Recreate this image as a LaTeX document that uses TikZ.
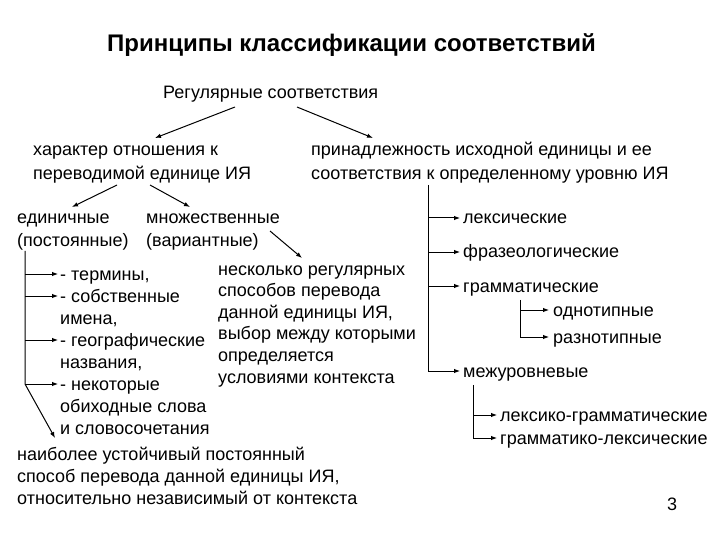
\documentclass[tikz,border=0pt]{standalone}
\usepackage{fontspec}
\setmainfont{Liberation Sans}
\usetikzlibrary{arrows.meta,calc}

\begin{document}
\begin{tikzpicture}[x=1pt, y=-1pt,
  every node/.style={font=\fontsize{18}{22}\selectfont, inner sep=0pt,
                     anchor=base west, align=left},
  titletext/.style={font=\fontsize{24}{28}\selectfont\bfseries, anchor=base},
  toptext/.style={font=\fontsize{18}{24}\selectfont},
  midtext/.style={font=\fontsize{18}{23}\selectfont},
  arr/.style={-{Latex[length=6pt,width=4.5pt]}, line width=1pt},
  branch/.style={line width=1pt},
]
\useasboundingbox (0,0) rectangle (720,540);

% Title and root (multi-line nodes are placed by their last baseline)
\node[titletext] (title) at (351.5,52) {Принципы классификации соответствий};
\node (reg) at (163,99) {Регулярные соответствия};

% Level 1
\node[toptext] (har) at (33,180) {характер отношения к\\переводимой единице ИЯ};
\node[toptext] (prin) at (311,180) {принадлежность исходной единицы и ее\\соответствия к определенному уровню ИЯ};

% Level 2: left branch
\node[midtext] (edin) at (17,247) {единичные\\(постоянные)};
\node[midtext] (mnozh) at (146,247) {множественные\\(вариантные)};

% Multiple: description
\node[font=\fontsize{18}{21.6}\selectfont] (nesk) at (218,383)
  {несколько регулярных\\способов перевода\\данной единицы ИЯ,\\выбор между которыми\\определяется\\условиями контекста};

% Single: list of items
\node (term) at (60,280) {- термины,};
\node (sobst) at (60,324) {- собственные\\имена,};
\node (geo) at (60,368) {- географические\\названия,};
\node (nek) at (60,434) {- некоторые\\обиходные слова\\и словосочетания};
\node (naib) at (17,504) {наиболее устойчивый постоянный\\способ перевода данной единицы ИЯ,\\относительно независимый от контекста};

% Right tree: levels
\node (leks) at (463,224) {лексические};
\node (fraz) at (463,258) {фразеологические};
\node (gram) at (463,292) {грамматические};
\node (odno) at (553,316) {однотипные};
\node (razn) at (553,343) {разнотипные};
\node (mezh) at (463,377) {межуровневые};
\node (lg) at (500,421) {лексико-грамматические};
\node (gl) at (500,444) {грамматико-лексические};

% Page number
\node[anchor=base] (num) at (672,510) {3};

% Arrows: top
\draw[arr] ($(reg.base west)+(72,8)$) -- ($(har.base west)+(122,-42)$);
\draw[arr] ($(reg.base west)+(134,8)$) -- ($(prin.base west)+(62,-42)$);
\draw[arr] ($(har.base west)+(84,5)$) -- ($(edin.base west)+(55,-40)$);
\draw[arr] ($(har.base west)+(117,5)$) -- ($(mnozh.base west)+(44,-40)$);
\draw[arr] ($(mnozh.base west)+(124,-16)$) -- ($(nesk.base west)+(84,-125)$);

% Left tree
\coordinate (ltop) at ([xshift=8pt]edin.south west);
\foreach \item/\n in {term/0,sobst/1,geo/1,nek/2}
  \draw[arr] (ltop |- {$(\item.base west)+(0,-6-22*\n)$}) -- ($(\item.base west)+(-2,-6-22*\n)$);
\draw[arr] (ltop) -- (ltop |- {$(nek.base west)+(0,-50)$}) -- ($(naib.base west)+(38,-66)$);

% Right tree
\coordinate (rtop) at ([xshift=117pt,yshift=-1pt]prin.south west);
\draw[branch] (rtop) -- (rtop |- {$(mezh.base west)+(0,-6)$});
\foreach \item in {leks,fraz,gram,mezh}
  \draw[arr] (rtop |- {$(\item.base west)+(0,-6)$}) -- ([xshift=-3pt,yshift=6pt]\item.base west);

\coordinate (gtop) at ([xshift=57pt,yshift=-4pt]gram.south west);
\draw[branch] (gtop) -- (gtop |- {$(razn.base west)+(0,-6)$});
\foreach \item in {odno,razn}
  \draw[arr] (gtop |- {$(\item.base west)+(0,-6)$}) -- ([xshift=-4pt,yshift=6pt]\item.base west);

\coordinate (mtop) at ([xshift=10pt,yshift=-4pt]mezh.south west);
\draw[branch] (mtop) -- (mtop |- {$(gl.base west)+(0,-6)$});
\foreach \item in {lg,gl}
  \draw[arr] (mtop |- {$(\item.base west)+(0,-6)$}) -- ([xshift=-3pt,yshift=6pt]\item.base west);
\end{tikzpicture}
\end{document}
